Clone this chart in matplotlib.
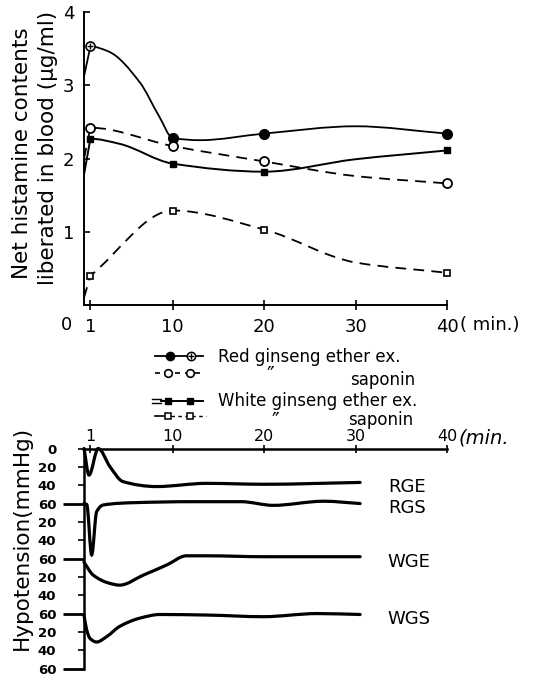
import numpy as np
import matplotlib
matplotlib.use("Agg")
import matplotlib.pyplot as plt
from matplotlib.path import Path
from matplotlib.patches import PathPatch

# ---------------- data: top chart (net histamine, ug/ml) ----------------
marker_x = [1, 10, 20, 40]
axis_start_x = 0.3
# curve knots (first segment from the axis is straight)
re_x = [0.3, 1, 3, 6.4, 8.5, 10, 13, 20, 30, 40]
re_y = [3.12, 3.53, 3.46, 3.04, 2.58, 2.28, 2.25, 2.34, 2.44, 2.34]   # Red ginseng ether ex.
rs_x = [0.3, 1, 10, 20, 30, 40]
rs_y = [2.0, 2.42, 2.17, 1.96, 1.76, 1.66]                            # Red ginseng saponin
we_x = [0.3, 1, 4.2, 10, 20, 30, 40]
we_y = [1.78, 2.27, 2.2, 1.93, 1.82, 1.99, 2.11]                      # White ginseng ether ex.
ws_x = [0.3, 1, 10, 20, 30, 40]
ws_y = [0.1, 0.40, 1.29, 1.03, 0.58, 0.44]                            # White ginseng saponin
re_m = [3.53, 2.28, 2.34, 2.34]
rs_m = [2.42, 2.17, 1.96, 1.66]
we_m = [2.27, 1.93, 1.82, 2.11]
ws_m = [0.40, 1.29, 1.03, 0.44]

top_xticks = [1, 10, 20, 30, 40]
top_yticks = [1, 2, 3, 4]

legend_labels = ["Red ginseng ether ex.", "saponin", "White ginseng ether ex.", "saponin"]

# ---------------- data: bottom chart (hypotension traces, mmHg drop) ----------------
trace_names = ["RGE", "RGS", "WGE", "WGS"]
rge_x = [0.3, 0.85, 1.85, 3.15, 4.55, 8.25, 13.7, 20, 30.5]
rge_d = [0, 29, 0, 20, 36, 41.5, 38, 39, 37]
rgs_x = [0.3, 0.6, 1.14, 1.68, 2.4, 6, 12, 17.5, 21, 26.5, 30.5]
rgs_d = [0, 1, 56, 9, 1.6, -1, -2, -2, 2, -2.5, 0]
wge_x = [0.3, 1.3, 3.1, 4.2, 6.8, 9.35, 11.5, 13.7, 20, 30.5]
wge_d = [4, 18, 27, 29, 18, 7, -3, -3, -2, -2]
wgs_x = [0.3, 0.6, 0.95, 1.68, 2.8, 4.2, 6.4, 8.6, 13.7, 19.9, 25.8, 30.5]
wgs_d = [1.6, 18, 27, 31, 25, 14, 5, 1, 1.6, 3.4, 0, 1]
trace_span = 60
bot_xticks = [1, 10, 20, 30, 40]
bot_yticks = list(range(0, 241, 20))
bot_yticklabels = ["0", "20", "40", "60", "20", "40", "60", "20", "40", "60", "20", "40", "60"]


def pchip_slopes(x, y):
    x = np.asarray(x, float); y = np.asarray(y, float)
    h = np.diff(x); d = np.diff(y) / h
    n = len(x); m = np.zeros(n)
    for i in range(1, n - 1):
        if d[i - 1] * d[i] <= 0:
            m[i] = 0.0
        else:
            w1 = 2 * h[i] + h[i - 1]; w2 = h[i] + 2 * h[i - 1]
            m[i] = (w1 + w2) / (w1 / d[i - 1] + w2 / d[i])
    m[0] = d[0]; m[-1] = d[-1]
    return m


def smooth_path(x, y, linear_first=False):
    x = list(map(float, x)); y = list(map(float, y))
    verts = [(x[0], y[0])]; codes = [Path.MOVETO]
    start = 0
    if linear_first:
        verts.append((x[1], y[1])); codes.append(Path.LINETO)
        start = 1
    xs, ys = x[start:], y[start:]
    m = pchip_slopes(xs, ys)
    if linear_first and len(xs) > 2 and (ys[1] - ys[0]) * (ys[0] - y[0]) < 0:
        m[0] = 0.0
    for i in range(len(xs) - 1):
        h = xs[i + 1] - xs[i]
        verts += [(xs[i] + h / 3, ys[i] + m[i] * h / 3),
                  (xs[i + 1] - h / 3, ys[i + 1] - m[i + 1] * h / 3),
                  (xs[i + 1], ys[i + 1])]
        codes += [Path.CURVE4] * 3
    return Path(verts, codes)


W, H = 538, 679
fig = plt.figure(figsize=(W / 100, H / 100), dpi=100)
plt.rcParams['font.family'] = ['DejaVu Sans']


def rect(l, t, r, b):
    return [l / W, 1 - b / H, (r - l) / W, (b - t) / H]


# ---------------- top axes ----------------
ax = fig.add_axes(rect(84, 12, 447, 305))
ax.set_xlim(axis_start_x, 40)
ax.set_ylim(0, 4)
for s in ["top", "right"]:
    ax.spines[s].set_visible(False)
for s in ["left", "bottom"]:
    ax.spines[s].set_linewidth(1.4)

dash = (0, (6, 4))
ax.add_patch(PathPatch(smooth_path(re_x, re_y, True), fill=False, lw=1.3, color="k"))
ax.add_patch(PathPatch(smooth_path(rs_x, rs_y, True), fill=False, lw=1.3, color="k", ls=dash))
ax.add_patch(PathPatch(smooth_path(we_x, we_y, True), fill=False, lw=1.4, color="k"))
ax.add_patch(PathPatch(smooth_path(ws_x, ws_y, True), fill=False, lw=1.3, color="k", ls=dash))

ax.plot(marker_x[1:], re_m[1:], ls="none", marker="o", ms=7, color="k", clip_on=False)
ax.plot(marker_x[:1], re_m[:1], ls="none", marker="o", ms=6.5, mfc="white", mec="k", mew=1.2)
ax.plot(marker_x[:1], re_m[:1], ls="none", marker="+", ms=5, color="k", mew=1.0)
ax.plot(marker_x, rs_m, ls="none", marker="o", ms=6.5, mfc="white", mec="k", mew=1.3, clip_on=False)
ax.plot(marker_x, we_m, ls="none", marker="s", ms=5, color="k", clip_on=False)
ax.plot(marker_x, ws_m, ls="none", marker="s", ms=4.5, mfc="white", mec="k", mew=1.2, clip_on=False)

ax.set_xticks(top_xticks)
ax.set_xticklabels([str(v) for v in top_xticks], fontsize=13)
ax.set_yticks(top_yticks)
ax.set_yticklabels([str(v) for v in top_yticks], fontsize=13)
ax.tick_params(axis="x", direction="inout", length=7, width=1.2, pad=6)
ax.tick_params(axis="y", direction="in", length=4, width=1.2, pad=7)
ax.annotate("0", xy=(axis_start_x, 0), xytext=(-18, -20), textcoords="offset pixels",
            ha="center", va="center", fontsize=13)

fig.text(22 / W, 1 - 153 / H, "Net histamine contents", rotation=90,
         ha="center", va="center", fontsize=15.5)
fig.text(48 / W, 1 - 148 / H, "liberated in blood (\u03bcg/ml)", rotation=90,
         ha="center", va="center", fontsize=15.5)
fig.text(460 / W, 1 - 325 / H, "( min.)", ha="left", va="center", fontsize=13)

# ---------------- bottom axes ----------------
bx = fig.add_axes(rect(84, 448.5, 447, 668.6))
bx.set_xlim(axis_start_x, 40)
bx.set_ylim(4 * trace_span, 0)
for s in ["bottom", "right"]:
    bx.spines[s].set_visible(False)
for s in ["left", "top"]:
    bx.spines[s].set_linewidth(1.8)
bx.xaxis.tick_top()
bx.set_xticks(bot_xticks)
bx.set_xticklabels([str(v) for v in bot_xticks], fontsize=11.5)
bx.tick_params(axis="x", direction="inout", length=6, width=1.2, pad=0.5)
bx.set_yticks(bot_yticks)
bx.set_yticklabels(bot_yticklabels, fontsize=9.5, fontweight="bold")
bx.tick_params(axis="y", direction="out", length=4, width=1.2, pad=16)
for t in bx.yaxis.get_major_ticks():
    v = t.get_loc()
    if v > 0 and v % trace_span == 0:
        t.tick1line.set_markersize(15)
        t.tick1line.set_markeredgewidth(2.0)

traces = [(rge_x, rge_d), (rgs_x, rgs_d), (wge_x, wge_d), (wgs_x, wgs_d)]
for i, (tx, td) in enumerate(traces):
    base = i * trace_span
    p = smooth_path(tx, [base + v for v in td])
    bx.add_patch(PathPatch(p, fill=False, lw=2.3, color="k", capstyle="round", clip_on=False))

label_px = [(388, 487), (388, 508), (387, 562), (387, 619)]
for name, (lx, ly) in zip(trace_names, label_px):
    fig.text(lx / W, 1 - ly / H, name, ha="left", va="center", fontsize=13)

fig.text(22 / W, 1 - 538 / H, "Hypotension(mmHg)", rotation=90,
         ha="center", va="center", fontsize=15.5)
fig.text(458 / W, 1 - 438 / H, "(min.", ha="left", va="center", fontsize=14, style="italic")

# ---------------- legend (drawn in figure pixels) ----------------
lg = fig.add_axes([0, 0, 1, 1], facecolor="none")
lg.set_xlim(0, W); lg.set_ylim(H, 0); lg.axis("off")
rows_y = [356, 373, 401, 416]
lg.plot([155, 203], [rows_y[0]] * 2, color="k", lw=1.3)
lg.plot([170], [rows_y[0]], "o", ms=6, color="k")
lg.plot([191], [rows_y[0]], "o", ms=6, mfc="white", mec="k", mew=1.1)
lg.plot([191], [rows_y[0]], "+", ms=4.5, color="k")
lg.plot([155, 205], [rows_y[1]] * 2, color="k", lw=1.2, ls=(0, (3, 3)))
lg.plot([168, 190], [rows_y[1]] * 2, "o", ms=5.5, mfc="white", mec="k", mew=1.2, ls="none")
lg.plot([152, 161], [rows_y[2] - 2] * 2, color="k", lw=1.0)
lg.plot([152, 161], [rows_y[2] + 2] * 2, color="k", lw=1.0)
lg.plot([161, 203], [rows_y[2]] * 2, color="k", lw=1.4)
lg.plot([168, 190], [rows_y[2]] * 2, "s", ms=4.5, color="k", ls="none")
lg.plot([155, 164], [rows_y[3]] * 2, color="k", lw=1.2)
lg.plot([164, 206], [rows_y[3]] * 2, color="k", lw=1.0, ls=(0, (2.5, 2.5)))
lg.plot([168, 190], [rows_y[3]] * 2, "s", ms=4.5, mfc="white", mec="k", mew=1.1, ls="none")

lg.text(218, 357, legend_labels[0], ha="left", va="center", fontsize=12)
lg.text(270, 366, "\u2033", ha="center", va="top", fontsize=15)
lg.text(350, 380, legend_labels[1], ha="left", va="center", fontsize=12)
lg.text(218, 401, legend_labels[2], ha="left", va="center", fontsize=12)
lg.text(275, 412, "\u2033", ha="center", va="top", fontsize=15)
lg.text(348, 420, legend_labels[3], ha="left", va="center", fontsize=12)

fig.savefig("out.png", dpi=100)
